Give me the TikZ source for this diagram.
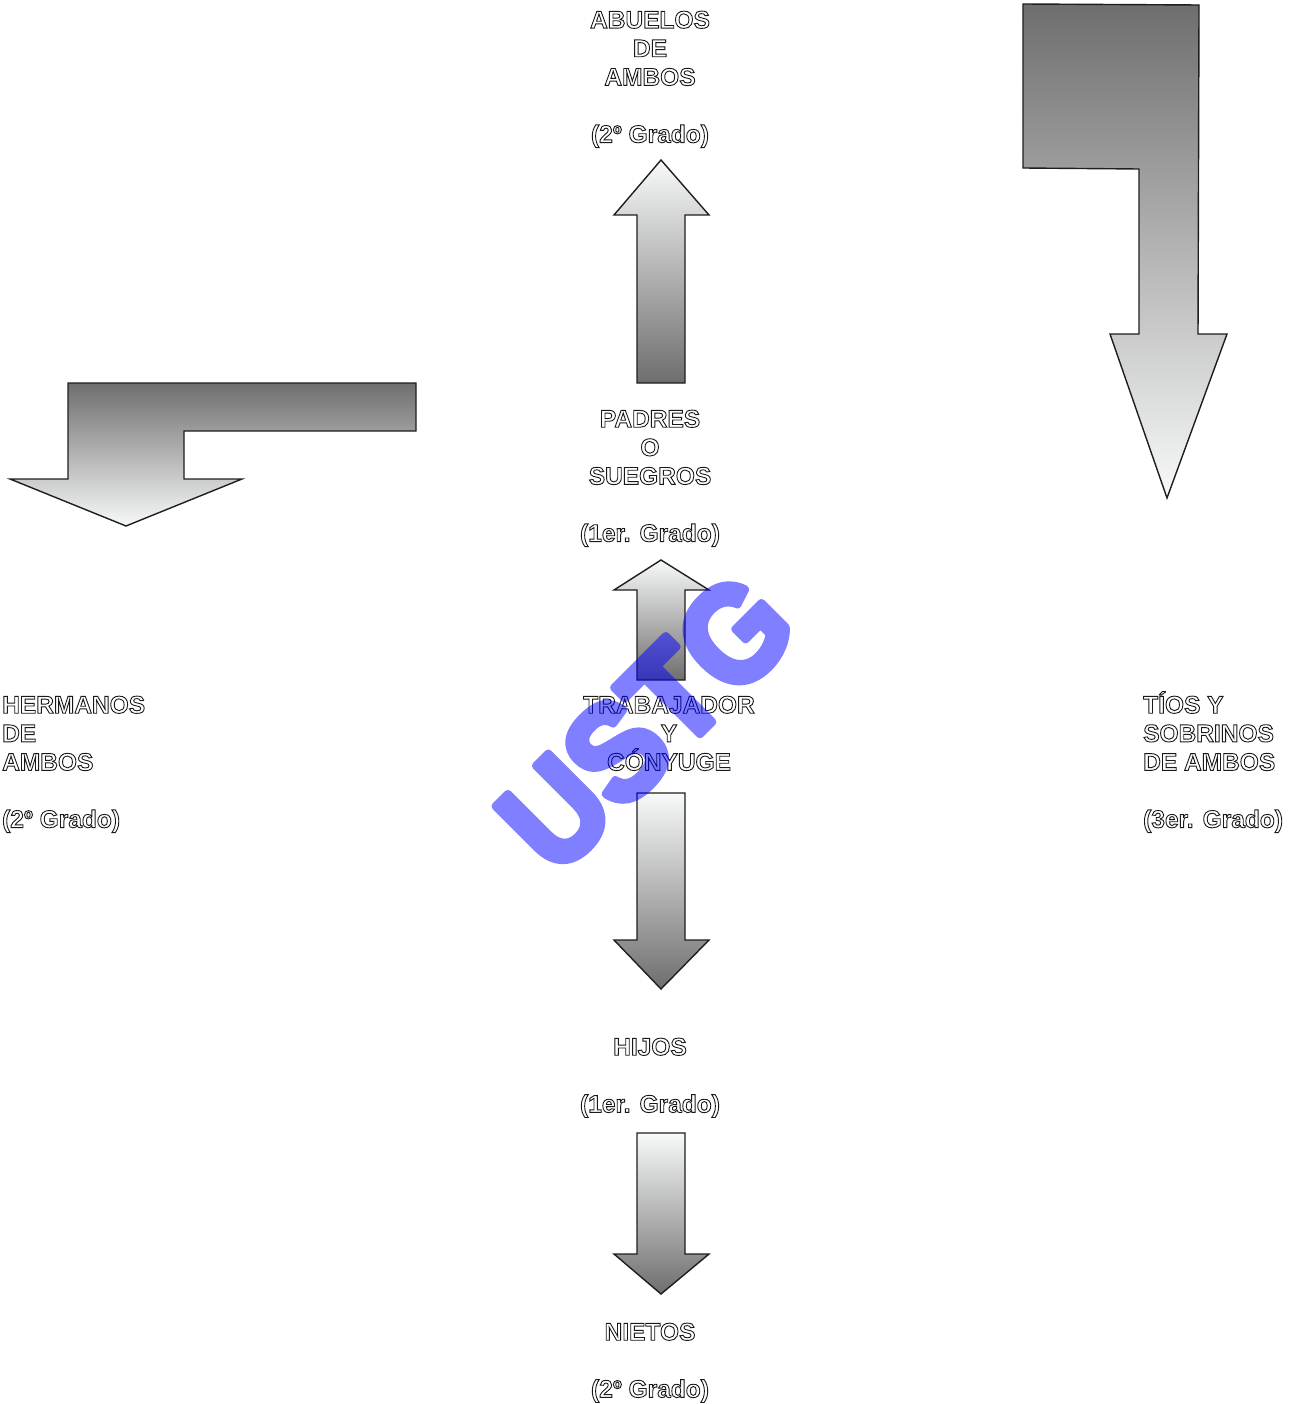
\documentclass[tikz,border=0pt]{standalone}
\usepackage{fontspec}
\setmainfont{Liberation Sans}
\definecolor{gdark}{HTML}{6E6E6E}
\definecolor{glight}{HTML}{F8F9F9}
\definecolor{edgec}{HTML}{1E1E1E}
\newcommand\ol[1]{\textcolor{white}{\special{pdf:literal direct 0.1 G 2 Tr 0.9 w}#1\special{pdf:literal direct 0 Tr}}}
\newcommand\wmtext[1]{\special{pdf:literal direct 0 0 1 RG 2 Tr 8 w 1 j}#1\special{pdf:literal direct 0 Tr}}
\tikzset{
  arrowshape/.style={draw=edgec, line width=1.4pt, line join=miter},
  lightup/.style={arrowshape, top color=glight, bottom color=gdark},
  darkup/.style={arrowshape, top color=gdark, bottom color=glight},
  lbl/.style={inner sep=0pt, font=\fontsize{24.5}{28.6}\selectfont\bfseries}
}
\begin{document}
\begin{tikzpicture}[x=1pt,y=-1pt]
\useasboundingbox (0,0) rectangle (1298,1404);
% arrows
\draw[lightup] (661,160) -- (709,215) -- (685,215) -- (685,383) -- (637,383) -- (637,215) -- (614,215) -- cycle;
\draw[lightup] (661,560) -- (709,590) -- (685,590) -- (685,680) -- (637,680) -- (637,590) -- (614,590) -- cycle;
\draw[lightup] (637,793) -- (685,793) -- (685,940) -- (709,940) -- (661,989) -- (614,940) -- (637,940) -- cycle;
\draw[lightup] (637,1133) -- (685,1133) -- (685,1254) -- (709,1254) -- (661,1294) -- (614,1254) -- (637,1254) -- cycle;
\draw[darkup] (68,383) -- (416,383) -- (416,431) -- (184,431) -- (184,479) -- (242,479) -- (126,526) -- (10,479) -- (68,479) -- cycle;
\draw[darkup] (1023,4) -- (1199,5) -- (1198,334) -- (1227,334) -- (1167,498) -- (1110,334) -- (1139,334) -- (1139,169) -- (1023,168) -- cycle;
% labels
\node[lbl, anchor=north, align=center] (abuelos) at (650,4)
  {\rule{0pt}{24pt}\ol{ABUELOS}\\\ol{DE}\\\ol{AMBOS}\\[28.6pt]\ol{(2º Grado)}};
\node[lbl, anchor=north, align=center] (padres) at (650,403)
  {\rule{0pt}{24pt}\ol{PADRES}\\\ol{O}\\\ol{SUEGROS}\\[28.6pt]\ol{(1er. Grado)}};
\node[lbl, anchor=north, align=center] (trab) at (669,689)
  {\rule{0pt}{24pt}\ol{TRABAJADOR}\\\ol{Y}\\\ol{CÓNYUGE}};
\node[lbl, anchor=north west, align=left] (herm) at (2,689)
  {\rule{0pt}{24pt}\ol{HERMANOS}\\\ol{DE}\\\ol{AMBOS}\\[28.6pt]\ol{(2º Grado)}};
\node[lbl, anchor=north west, align=left] (tios) at (1143,689)
  {\rule{0pt}{24pt}\ol{TÍOS Y}\\\ol{SOBRINOS}\\\ol{DE AMBOS}\\[28.6pt]\ol{(3er. Grado)}};
\node[lbl, anchor=north, align=center] (hijos) at (650,1031)
  {\rule{0pt}{24pt}\ol{HIJOS}\\[28.6pt]\ol{(1er. Grado)}};
\node[lbl, anchor=north, align=center] (nietos) at (650,1316)
  {\rule{0pt}{24pt}\ol{NIETOS}\\[28.6pt]\ol{(2º Grado)}};
% watermark
\begin{scope}[transparency group, opacity=0.5]
\node[inner sep=0pt, font=\fontsize{136}{136}\selectfont\bfseries, text=blue, rotate=45, xscale=0.92] (wm) at (646,722) {\wmtext{USTG}};
\end{scope}
\end{tikzpicture}
\end{document}
